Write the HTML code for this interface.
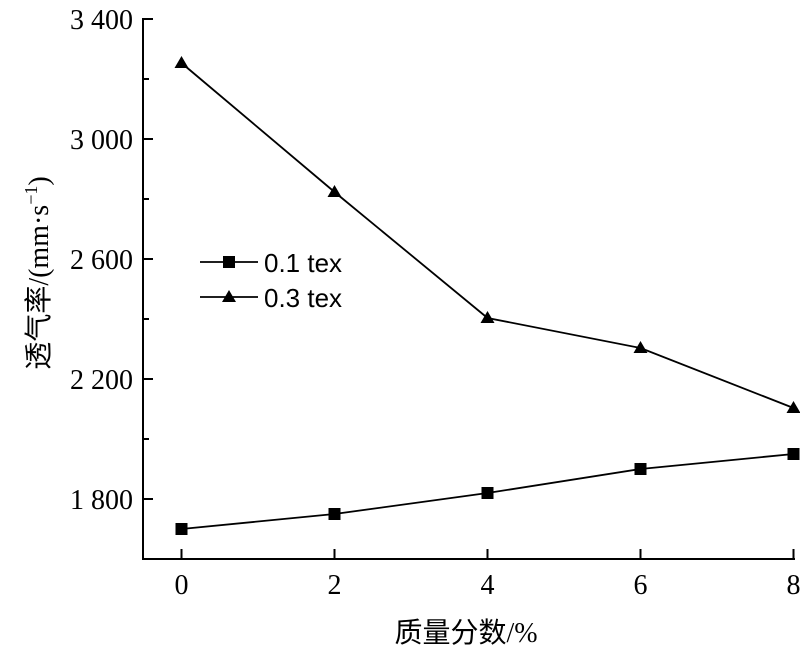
<!DOCTYPE html>
<html><head><meta charset="utf-8"><style>body{margin:0;background:#fff}</style></head><body>
<svg width="800" height="650" xmlns="http://www.w3.org/2000/svg" font-family="Liberation Serif, 'Noto Sans CJK SC', serif">
<rect width="800" height="650" fill="#fff"/>
<g stroke="#000" stroke-width="2" fill="none">
<path d="M143,18 V559 H795"/>
<path d="M143,19 h10 M143,139 h10 M143,259 h10 M143,379 h10 M143,499 h10"/>
<path d="M143,79 h6 M143,199 h6 M143,319 h6 M143,439 h6"/>
<path d="M181.5,559 v-10 M334.5,559 v-10 M487.5,559 v-10 M640.5,559 v-10 M793.5,559 v-10"/>
<polyline stroke-width="1.8" points="181.5,529 334.5,514 487.5,493 640.5,469 793.5,454"/>
<polyline stroke-width="1.8" points="181.5,63 334.5,192 487.5,318 640.5,348 793.5,408"/>
<path stroke-width="1.8" d="M200,262 H258 M200,297 H258"/>
</g>
<g fill="#000">
<rect x="175.5" y="523" width="12" height="12"/><rect x="328.5" y="508" width="12" height="12"/><rect x="481.5" y="487" width="12" height="12"/><rect x="634.5" y="463" width="12" height="12"/><rect x="787.5" y="448" width="12" height="12"/>
<rect x="223" y="256" width="12" height="12"/>
<path d="M181.5,56 l7,12 h-14z M334.5,185 l7,12 h-14z M487.5,311 l7,12 h-14z M640.5,341 l7,12 h-14z M793.5,401 l7,12 h-14z M229,290 l7,12 h-14z"/>
</g>
<g font-size="28" text-anchor="end">
<text x="133" y="29">3 400</text><text x="133" y="149">3 000</text><text x="133" y="269">2 600</text><text x="133" y="389">2 200</text><text x="133" y="509">1 800</text>
</g>
<g font-size="28" text-anchor="middle">
<text x="181.5" y="594">0</text><text x="334.5" y="594">2</text><text x="487.5" y="594">4</text><text x="640.5" y="594">6</text><text x="793.5" y="594">8</text>
<text x="466" y="642">质量分数/%</text>
</g>
<g font-size="26" font-family="Liberation Sans, sans-serif">
<text x="264" y="272">0.1 tex</text><text x="264" y="307">0.3 tex</text>
</g>
<text transform="translate(48,273) rotate(-90)" font-size="28" text-anchor="middle">透气率/(mm·s<tspan font-size="18" dy="-11">−1</tspan><tspan dy="11">)</tspan></text>
</svg>
</body></html>
